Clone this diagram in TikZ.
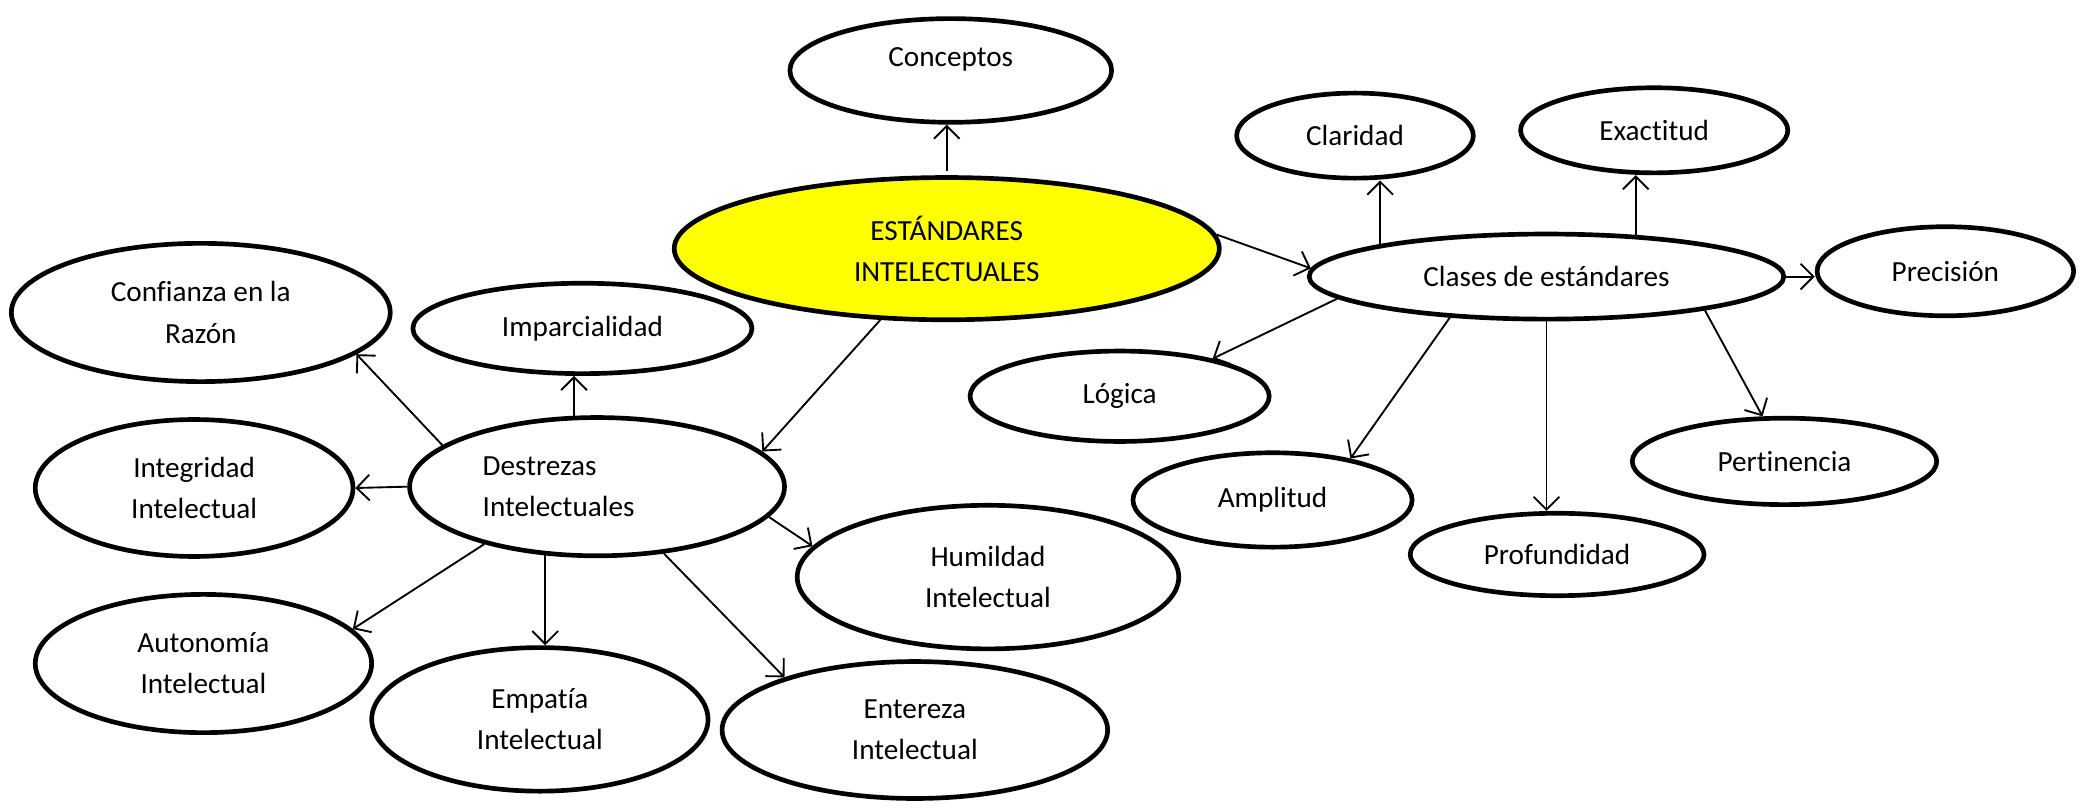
\documentclass[tikz,border=0pt]{standalone}
\usepackage{fontspec}
\setmainfont{Carlito}[Ligatures=NoCommon]
\usetikzlibrary{shapes.geometric,arrows.meta}
\definecolor{amarillo}{RGB}{255,255,0}
\tikzset{
  ell/.style={ellipse, draw, line width=2pt, inner sep=0pt, align=center,
    font=\fontsize{12.5}{17.6}\selectfont},
  arr/.style={-{Straight Barb[length=5.5pt,width=11pt]}, line width=0.8pt}
}
\begin{document}
\begin{tikzpicture}[x=0.02cm,y=-0.02cm]
  \useasboundingbox (0,0) rectangle (1568,607);
  %\draw [help lines] (0,0) grid (1568,607);
  \node[ell, fill=amarillo, minimum width=8.2cm, minimum height=2.14cm] (est) at (712,187) {ESTÁNDARES\\INTELECTUALES};
  \node[ell, minimum width=4.84cm, minimum height=1.56cm, text depth=0.4cm] (con) at (715,53) {Conceptos};

  % clases de estandares
  \node[ell, minimum width=7.14cm, minimum height=1.28cm] (cla) at (1163,208) {Clases de estándares};
  \node[ell, minimum width=3.56cm, minimum height=1.28cm] (clr) at (1019,102) {Claridad};
  \node[ell, minimum width=4.02cm, minimum height=1.28cm] (exa) at (1244,98) {Exactitud};
  \node[ell, minimum width=3.86cm, minimum height=1.34cm] (pre) at (1463,204) {Precisión};
  \node[ell, minimum width=4.50cm, minimum height=1.36cm] (log) at (842,298) {Lógica};
  \node[ell, minimum width=4.58cm, minimum height=1.30cm] (per) at (1342,347) {Pertinencia};
  \node[ell, minimum width=4.20cm, minimum height=1.42cm] (amp) at (957,376) {Amplitud};
  \node[ell, minimum width=4.42cm, minimum height=1.24cm] (pro) at (1171,417) {Profundidad};

  % destrezas
  \node[ell, minimum width=5.64cm, minimum height=2.08cm, text width=3.44cm, align=left] (des) at (449,366) {Destrezas\\Intelectuales};
  \node[ell, minimum width=5.70cm, minimum height=2.08cm] (cnf) at (151,235) {Confianza en la\\Razón};
  \node[ell, minimum width=5.10cm, minimum height=1.36cm] (imp) at (438,247) {Imparcialidad};
  \node[ell, minimum width=4.78cm, minimum height=2.06cm] (int) at (146,367) {Integridad\\Intelectual};
  \node[ell, minimum width=5.74cm, minimum height=2.16cm] (hum) at (743,434) {Humildad\\Intelectual};
  \node[ell, minimum width=5.06cm, minimum height=2.08cm] (aut) at (153,499) {Autonomía\\Intelectual};
  \node[ell, minimum width=5.06cm, minimum height=2.16cm] (emp) at (406,541) {Empatía\\Intelectual};
  \node[ell, minimum width=5.80cm, minimum height=2.06cm] (ent) at (688,549) {Entereza\\Intelectual};

  \draw[arr, shorten <=2pt] (est.north) -- (est.north |- con.south);
  \draw[arr] (est.3) -- (cla.178);
  \draw[arr] (est.227) -- (des.12);

  \draw[arr] (cla.169) -- (cla.169 |- clr.south);
  \draw[arr] (cla.25) -- (cla.25 |- exa.south);
  \draw[arr] (cla.east) -- (cla.east -| pre.west);
  \draw[arr] (cla.186) -- (log.22);
  \draw[arr] (cla.203) -- (amp.28);
  \draw[arr] (cla.south) -- (cla.south |- pro.north);
  \draw[arr] (cla.348) -- (per.116);

  \draw[arr] (des.108) -- (des.108 |- imp.south);
  \draw[arr] (des.165) -- (cnf.345);
  \draw[arr] (des.west) -- (int.east);
  \draw[arr] (des.207) -- (aut.13);
  \draw[arr] (des.233) -- (des.233 |- emp.north);
  \draw[arr] (des.315) -- (ent.158);
  \draw[arr] (des.350) -- (hum.170);
\end{tikzpicture}
\end{document}
